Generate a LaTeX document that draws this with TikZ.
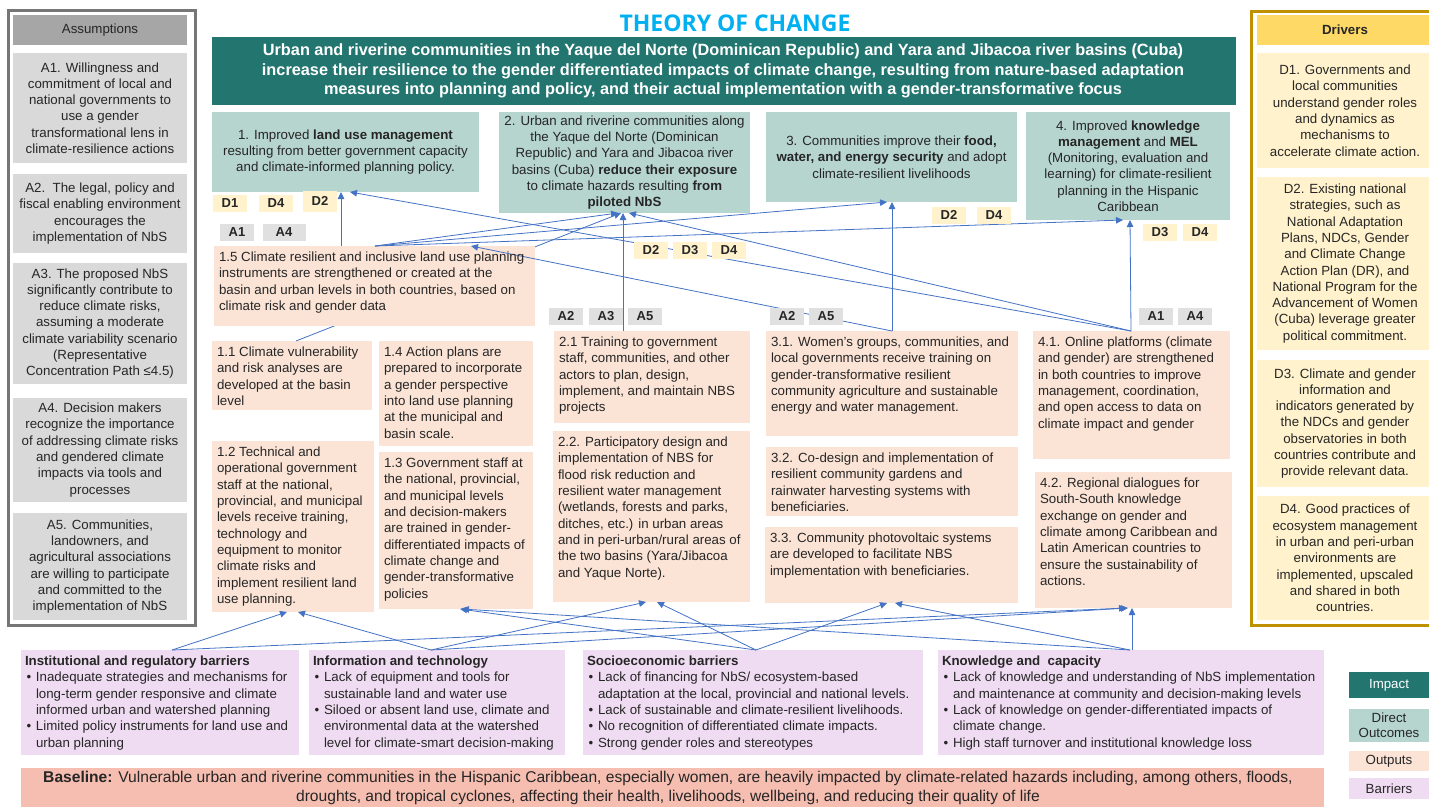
\documentclass[tikz,border=0pt]{standalone}
\usepackage{fontspec}
\setmainfont{Liberation Sans}
\newfontfamily\titlefont{Open Sans}
\usetikzlibrary{arrows.meta}
\definecolor{impc}{RGB}{35,117,112}
\definecolor{outcc}{RGB}{182,213,206}
\definecolor{outpc}{RGB}{251,228,214}
\definecolor{barc}{RGB}{240,220,242}
\definecolor{basec}{RGB}{246,190,177}
\definecolor{asmc}{RGB}{217,217,217}
\definecolor{asmh}{RGB}{166,166,166}
\definecolor{asmf}{RGB}{118,118,118}
\definecolor{drvc}{RGB}{255,242,204}
\definecolor{drvh}{RGB}{255,217,102}
\definecolor{drvf}{RGB}{191,144,0}
\definecolor{taga}{RGB}{224,224,224}
\definecolor{arrc}{RGB}{68,114,196}
\definecolor{titc}{RGB}{0,176,240}
\definecolor{txt}{RGB}{38,38,38}
\newcommand\bodyf{\fontsize{13.3}{16.3}\selectfont}
\newcommand\impf{\fontsize{16.3}{19.5}\selectfont\bfseries}
\newcommand\basef{\fontsize{15.6}{19}\selectfont}
\newcommand\tagf{\fontsize{13}{13}\selectfont\bfseries}
\newcommand\bul{\makebox[11pt][l]{\hspace{1.5pt}•}}
\newcommand\ind{\hspace*{11pt}}
\newcommand\bx[6]{\node[#2,anchor=north west,minimum width={(#5)-(#3)},minimum height={(#6)-(#4)}] (#1) at (#3,#4) {};}
\tikzset{
  box/.style={draw=none,inner sep=0pt,outer sep=0pt},
  asm/.style={box,fill=asmc},
  drv/.style={box,fill=drvc},
  outc/.style={box,fill=outcc},
  outp/.style={box,fill=outpc},
  barr/.style={box,fill=barc},
  tagD/.style={fill=drvc,font=\tagf,minimum width=34pt,minimum height=17pt,inner sep=0pt},
  tagA/.style={fill=taga,font=\tagf,minimum width=34pt,minimum height=17pt,inner sep=0pt},
  arr/.style={draw=arrc,line width=0.8pt,-{Triangle[length=7pt,width=6.5pt]}},
  ctext/.style={font=\bodyf,align=center},
  ltext/.style={font=\bodyf,align=left,anchor=north west,inner sep=0pt}
}
\begin{document}
\begin{tikzpicture}[x=1pt,y=-1pt,every node/.style={outer sep=0pt,inner sep=0pt,text=txt}]
\useasboundingbox (0,0) rectangle (1429,806);
\fill[white] (0,0) rectangle (1429,806);

% ---------- title and impact
\node[font=\titlefont\bfseries\fontsize{23}{23}\selectfont,text=titc] (title) at (735,23) {THEORY OF CHANGE};
\bx{imp}{box,fill=impc}{212}{37}{1236}{105}
\node[font=\impf,align=center,text=white] (impt) at (723,71) {Urban and riverine communities in the Yaque del Norte (Dominican Republic) and Yara and Jibacoa river basins (Cuba)\\increase their resilience to the gender differentiated impacts of climate change, resulting from nature-based adaptation\\measures into planning and policy, and their actual implementation with a gender-transformative focus};

% ---------- outcomes
\bx{o1}{outc}{212}{112}{479}{192}
\bx{o2}{outc}{499}{112}{750}{213}
\bx{o3}{outc}{766}{112}{1017}{202}
\bx{o4}{outc}{1026}{112}{1230}{220}

% ---------- outputs (boxes)
\bx{o15}{outp}{214}{246}{535}{326}
\bx{o11}{outp}{212}{341}{372}{410}
\bx{o14}{outp}{379}{341}{533}{446}
\bx{o12}{outp}{212}{441}{374}{612}
\bx{o13}{outp}{379}{452}{533}{609}
\bx{o21}{outp}{554}{331}{750}{423}
\bx{o22}{outp}{553}{431}{750}{602}
\bx{o31}{outp}{766}{331}{1018}{436}
\bx{o32}{outp}{766}{447}{1018}{516}
\bx{o33}{outp}{765}{527}{1018}{603}
\bx{o41}{outp}{1033}{331}{1230}{459}
\bx{o42}{outp}{1035}{472}{1232}{608}

% ---------- barriers
\bx{b1}{barr}{21}{650}{299}{755}
\bx{b2}{barr}{309}{650}{565}{755}
\bx{b3}{barr}{583}{650}{923}{755}
\bx{b4}{barr}{938}{650}{1324}{755}

% ---------- connectors
\draw[arr] ([xshift=84pt]o11.north west) -- ([xshift=122pt]o2.south west);
\bx{o15b}{outp}{214}{246}{535}{326}
\draw[arr] ([xshift=127pt]o15.north west) -- ([xshift=129pt]o1.south west);
\draw[arr] ([xshift=161pt]o15.north west) -- ([xshift=119pt]o2.south west);
\draw[arr] ([xshift=161pt]o15.north west) -- ([xshift=121pt]o3.south west);
\draw[arr] ([xshift=161pt]o15.north west) -- ([xshift=97pt]o4.south west);
\draw[arr] ([xshift=69pt]o21.north west) -- ([xshift=124pt]o2.south west);
\draw[arr] ([xshift=126pt]o31.north west) -- ([xshift=126pt]o3.south west);
\draw[arr] ([xshift=98pt]o41.north west) -- ([xshift=104pt]o4.south west);
\draw[arr] ([xshift=98pt]o41.north west) -- ([xshift=138pt]o1.south west);
\draw[arr] ([xshift=98pt]o41.north west) -- ([xshift=130pt]o2.south west);
\draw[arr] ([xshift=126pt]o31.north west) -- ([xshift=257pt]o15.north west);

\draw[arr] ([xshift=151pt]b1.north west) -- ([xshift=75pt]o12.south west);
\draw[arr] ([xshift=122pt]b2.north west) -- ([xshift=86pt]o12.south west);
\draw[arr] ([xshift=173pt]b3.north west) -- ([xshift=81pt]o13.south west);
\draw[arr] ([xshift=192pt]b4.north west) -- ([xshift=83pt]o13.south west);
\draw[arr] ([xshift=122pt]b2.north west) -- ([xshift=93pt]o22.south west);
\draw[arr] ([xshift=173pt]b3.north west) -- ([xshift=104pt]o22.south west);
\draw[arr] ([xshift=173pt]b3.north west) -- ([xshift=122pt]o33.south west);
\draw[arr] ([xshift=192pt]b4.north west) -- ([xshift=130pt]o33.south west);
\draw[arr] ([xshift=194pt]b4.north west) -- ([xshift=97pt]o42.south west);
\draw[arr] ([xshift=122pt]b2.north west) -- ([xshift=93pt]o42.south west);
\draw[arr] ([xshift=151pt]b1.north west) -- ([xshift=91pt]o42.south west);

% ---------- outcome texts
\node[ctext] (o1t) at (o1) {1. Improved \textbf{land use management}\\resulting from better government capacity\\and climate-informed planning policy.};
\node[ctext] (o2t) at (o2) {2. Urban and riverine communities along\\the Yaque del Norte (Dominican\\Republic) and Yara and Jibacoa river\\basins (Cuba) \textbf{reduce their exposure}\\to climate hazards resulting \textbf{from}\\\textbf{piloted NbS}};
\node[ctext] (o3t) at (o3) {3. Communities improve their \textbf{food,}\\\textbf{water, and energy security} and adopt\\climate-resilient livelihoods};
\node[ctext] (o4t) at (o4) {4. Improved \textbf{knowledge}\\\textbf{management} and \textbf{MEL}\\(Monitoring, evaluation and\\learning) for climate-resilient\\planning in the Hispanic\\Caribbean};

% ---------- output texts
\node[ltext] (o15t) at ([shift={(5pt,-6pt)}]o15.north west) {1.5 Climate resilient and inclusive land use planning\\instruments are strengthened or created at the\\basin and urban levels in both countries, based on\\climate risk and gender data};
\node[ltext] (o11t) at ([shift={(5pt,-6pt)}]o11.north west) {1.1 Climate vulnerability\\and risk analyses are\\developed at the basin\\level};
\node[ltext] (o14t) at ([shift={(5pt,-6pt)}]o14.north west) {1.4 Action plans are\\prepared to incorporate\\a gender perspective\\into land use planning\\at the municipal and\\basin scale.};
\node[ltext] (o12t) at ([shift={(5pt,-6pt)}]o12.north west) {1.2 Technical and\\operational government\\staff at the national,\\provincial, and municipal\\levels receive training,\\technology and\\equipment to monitor\\climate risks and\\implement resilient land\\use planning.};
\node[ltext] (o13t) at ([shift={(5pt,-6pt)}]o13.north west) {1.3 Government staff at\\the national, provincial,\\and municipal levels\\and decision-makers\\are trained in gender-\\differentiated impacts of\\climate change and\\gender-transformative\\policies};
\node[ltext] (o21t) at ([shift={(5pt,-6pt)}]o21.north west) {2.1 Training to government\\staff, communities, and other\\actors to plan, design,\\implement, and maintain NBS\\projects};
\node[ltext] (o22t) at ([shift={(5pt,-6pt)}]o22.north west) {2.2. Participatory design and\\implementation of NBS for\\flood risk reduction and\\resilient water management\\(wetlands, forests and parks,\\ditches, etc.) in urban areas\\and in peri-urban/rural areas of\\the two basins (Yara/Jibacoa\\and Yaque Norte).};
\node[ltext] (o31t) at ([shift={(5pt,-6pt)}]o31.north west) {3.1. Women’s groups, communities, and\\local governments receive training on\\gender-transformative resilient\\community agriculture and sustainable\\energy and water management.};
\node[ltext] (o32t) at ([shift={(5pt,-6pt)}]o32.north west) {3.2. Co-design and implementation of\\resilient community gardens and\\rainwater harvesting systems with\\beneficiaries.};
\node[ltext] (o33t) at ([shift={(5pt,-6pt)}]o33.north west) {3.3. Community photovoltaic systems\\are developed to facilitate NBS\\implementation with beneficiaries.};
\node[ltext] (o41t) at ([shift={(5pt,-6pt)}]o41.north west) {4.1. Online platforms (climate\\and gender) are strengthened\\in both countries to improve\\management, coordination,\\and open access to data on\\climate impact and gender};
\node[ltext] (o42t) at ([shift={(5pt,-6pt)}]o42.north west) {4.2. Regional dialogues for\\South-South knowledge\\exchange on gender and\\climate among Caribbean and\\Latin American countries to\\ensure the sustainability of\\actions.};

% ---------- tags
\node[tagD] (tg1) at (230,203) {D1};
\node[tagD] (tg2) at (276,203) {D4};
\node[tagD,minimum height=21pt] (tg3) at (320,201) {D2};
\node[tagA] (tg4) at (237,232) {A1};
\node[tagA,minimum width=43pt] (tg5) at (284,232) {A4};
\node[tagD] (tg6) at (651,250) {D2};
\node[tagD] (tg7) at (690,250) {D3};
\node[tagD] (tg8) at (729,250) {D4};
\node[tagD] (tg9) at (949,215) {D2};
\node[tagD] (tg10) at (994,215) {D4};
\node[tagD] (tg11) at (1160,232) {D3};
\node[tagD] (tg12) at (1200,232) {D4};
\node[tagA] (tg13) at (566,316) {A2};
\node[tagA] (tg14) at (606,316) {A3};
\node[tagA] (tg15) at (645,316) {A5};
\node[tagA] (tg16) at (787,316) {A2};
\node[tagA] (tg17) at (826,316) {A5};
\node[tagA] (tg18) at (1156,316) {A1};
\node[tagA] (tg19) at (1195,316) {A4};

% ---------- assumptions
\draw[asmf,line width=3pt] (8,10) rectangle (195,625);
\bx{ah}{box,fill=asmh}{13}{15}{187}{45}
\node[font=\bodyf] (aht) at (ah) {Assumptions};
\bx{a1}{asm}{13}{53}{187}{163}
\bx{a2}{asm}{13}{174}{187}{253}
\bx{a3}{asm}{13}{263}{187}{384}
\bx{a4}{asm}{13}{398}{187}{502}
\bx{a5}{asm}{13}{513}{187}{620}
\node[ctext] (a1t) at (a1) {A1. Willingness and\\commitment of local and\\national governments to\\use a gender\\transformational lens in\\climate-resilience actions};
\node[ctext] (a2t) at (a2) {A2.\ \ The legal, policy and\\fiscal enabling environment\\encourages the\\implementation of NbS};
\node[ctext] (a3t) at (a3) {A3. The proposed NbS\\significantly contribute to\\reduce climate risks,\\assuming a moderate\\climate variability scenario\\(Representative\\Concentration Path ≤4.5)};
\node[ctext] (a4t) at (a4) {A4. Decision makers\\recognize the importance\\of addressing climate risks\\and gendered climate\\impacts via tools and\\processes};
\node[ctext] (a5t) at (a5) {A5. Communities,\\landowners, and\\agricultural associations\\are willing to participate\\and committed to the\\implementation of NbS};

% ---------- drivers
\draw[drvf,line width=3pt] (1251,11) rectangle (1440,625);
\bx{dh}{box,fill=drvh}{1257}{15}{1433}{45}
\node[font=\bodyf\bfseries] (dht) at (dh) {Drivers};
\bx{d1}{drv}{1257}{53}{1433}{168}
\bx{d2}{drv}{1257}{177}{1433}{350}
\bx{d3}{drv}{1257}{360}{1433}{487}
\bx{d4}{drv}{1257}{496}{1433}{620}
\node[ctext] (d1t) at (d1) {D1. Governments and\\local communities\\understand gender roles\\and dynamics as\\mechanisms to\\accelerate climate action.};
\node[ctext] (d2t) at (d2) {D2. Existing national\\strategies, such as\\National Adaptation\\Plans, NDCs, Gender\\and Climate Change\\Action Plan (DR), and\\National Program for the\\Advancement of Women\\(Cuba) leverage greater\\political commitment.};
\node[ctext] (d3t) at (d3) {D3. Climate and gender\\information and\\indicators generated by\\the NDCs and gender\\observatories in both\\countries contribute and\\provide relevant data.};
\node[ctext] (d4t) at (d4) {D4. Good practices of\\ecosystem management\\in urban and peri-urban\\environments are\\implemented, upscaled\\and shared in both\\countries.};

% ---------- barrier texts
\node[ltext] (b1t) at ([shift={(4pt,-6pt)}]b1.north west) {\textbf{Institutional and regulatory barriers}\\\bul Inadequate strategies and mechanisms for\\\ind long-term gender responsive and climate\\\ind informed urban and watershed planning\\\bul Limited policy instruments for land use and\\\ind urban planning};
\node[ltext] (b2t) at ([shift={(4pt,-6pt)}]b2.north west) {\textbf{Information and technology}\\\bul Lack of equipment and tools for\\\ind sustainable land and water use\\\bul Siloed or absent land use, climate and\\\ind environmental data at the watershed\\\ind level for climate-smart decision-making};
\node[ltext] (b3t) at ([shift={(4pt,-6pt)}]b3.north west) {\textbf{Socioeconomic barriers}\\\bul Lack of financing for NbS/ ecosystem-based\\\ind adaptation at the local, provincial and national levels.\\\bul Lack of sustainable and climate-resilient livelihoods.\\\bul No recognition of differentiated climate impacts.\\\bul Strong gender roles and stereotypes};
\node[ltext] (b4t) at ([shift={(4pt,-6pt)}]b4.north west) {\textbf{Knowledge and\ \ capacity}\\\bul Lack of knowledge and understanding of NbS implementation\\\ind and maintenance at community and decision-making levels\\\bul Lack of knowledge on gender-differentiated impacts of\\\ind climate change.\\\bul High staff turnover and institutional knowledge loss};

% ---------- baseline
\bx{base}{box,fill=basec}{21}{768}{1324}{812}
\node[font=\basef,align=center] (baset) at (668,788) {\textbf{Baseline:} Vulnerable urban and riverine communities in the Hispanic Caribbean, especially women, are heavily impacted by climate-related hazards including, among others, floods,\\droughts, and tropical cyclones, affecting their health, livelihoods, wellbeing, and reducing their quality of life};

% ---------- legend
\bx{lg1}{box,fill=impc}{1349}{672}{1429}{698}
\node[font=\bodyf,text=white] (lg1t) at (lg1) {Impact};
\bx{lg2}{box,fill=outcc}{1349}{709}{1429}{742}
\node[font=\fontsize{13.3}{15}\selectfont,align=center] (lg2t) at (lg2) {Direct\\Outcomes};
\bx{lg3}{box,fill=outpc}{1349}{751}{1429}{771}
\node[font=\bodyf] (lg3t) at (lg3) {Outputs};
\bx{lg4}{box,fill=barc}{1349}{778}{1429}{799}
\node[font=\bodyf] (lg4t) at (lg4) {Barriers};
\end{tikzpicture}
\end{document}
